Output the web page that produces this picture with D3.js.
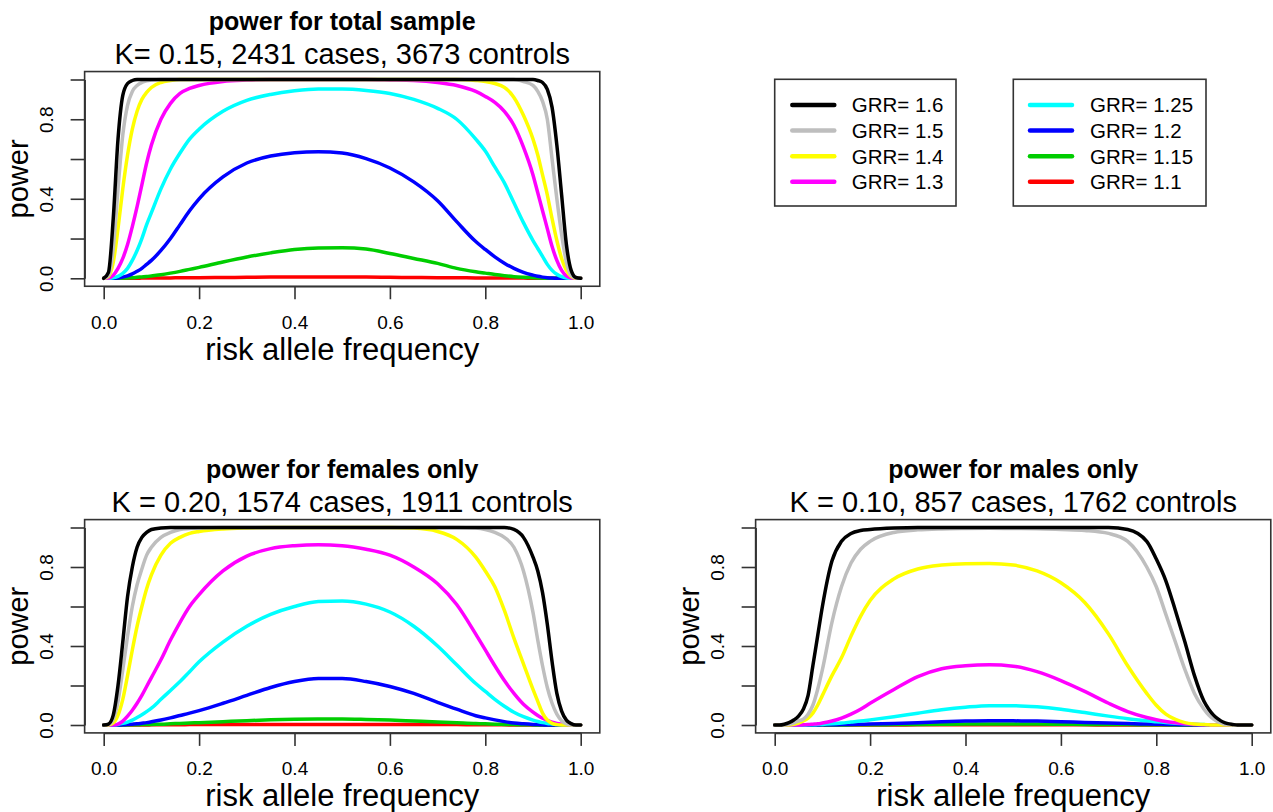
<!DOCTYPE html>
<html>
<head>
<meta charset="utf-8">
<script src="https://cdn.jsdelivr.net/npm/d3@7"></script>
<style>
  body { margin: 0; background: #fff; }
  svg text { font-family: "Liberation Sans", Arial, sans-serif; fill: #000; }
</style>
</head>
<body>
<div id="chart"></div>
<script>
// risk allele frequency grid the curves were read at
var freq = [0, .01, .02, .03, .04, .05, .06, .07, .08, .09, .1,
  .12, .14, .16, .18, .2,
  .25, .3, .35, .4, .45, .5, .55, .6, .65, .7,
  .74, .78, .8, .82, .84, .86, .88, .9,
  .91, .92, .93, .94, .95, .96, .97, .98, .99, 1];

var grr = ["1.6", "1.5", "1.4", "1.3", "1.25", "1.2", "1.15", "1.1"];
var colors = ["#000000", "#bebebe", "#ffff00", "#ff00ff", "#00ffff", "#0000ff", "#00cd00", "#ff0000"];
var yTicks = [0, 0.2, 0.4, 0.6, 0.8, 1];
var yLabelled = [0, 0.4, 0.8];
var xTicks = [0, 0.2, 0.4, 0.6, 0.8, 1];

// power, one row per GRR (same order as grr)
var totalPower = [
  [0,.03,.3,.7,.92,.98,.995,1,1,1,1, 1,1,1,1,1, 1,1,1,1,1,1,1,1,1,1, 1,1,1,1,1,1,1,1, .995,.985,.95,.86,.67,.42,.17,.04,.004,0],
  [0,.015,.15,.45,.72,.87,.94,.97,.985,.993,.997, 1,1,1,1,1, 1,1,1,1,1,1,1,1,1,1, 1,1,1,1,1,1,.99,.97, .94,.89,.8,.6,.4,.22,.08,.015,.002,0],
  [0,.01,.08,.25,.45,.62,.75,.84,.9,.935,.96, .985,.995,1,1,1, 1,1,1,1,1,1,1,1,1,1, 1,.995,.99,.98,.96,.91,.82,.7, .62,.52,.42,.3,.19,.1,.04,.01,0,0],
  [0,.002,.015,.05,.1,.17,.26,.36,.47,.58,.67, .8,.88,.93,.955,.97, .99,.997,1,1,1,1,1,.998,.995,.985, .97,.94,.915,.885,.84,.77,.66,.52, .43,.34,.25,.16,.09,.04,.012,.002,0,0],
  [0,0,.003,.01,.025,.05,.09,.14,.2,.27,.33, .45,.55,.63,.7,.75, .84,.895,.925,.943,.952,.952,.945,.93,.9,.855, .8,.7,.64,.56,.48,.38,.28,.19, .15,.11,.07,.04,.02,.008,.002,0,0,0],
  [0,0,0,.002,.006,.012,.022,.035,.05,.07,.09, .14,.2,.27,.34,.4, .51,.58,.615,.632,.637,.63,.602,.555,.485,.39, .285,.185,.145,.108,.076,.05,.03,.016, .01,.006,.003,.001,0,0,0,0,0,0],
  [0,0,0,0,.001,.002,.003,.005,.007,.009,.012, .018,.026,.035,.045,.055, .082,.107,.128,.145,.153,.154,.147,.125,.1,.075, .05,.033,.026,.019,.013,.008,.005,.003, .002,.001,0,0,0,0,0,0,0,0],
  [0,0,0,0,0,0,0,0,.001,.001,.001, .002,.002,.003,.003,.003, .004,.005,.006,.006,.006,.006,.006,.005,.004,.003, .003,.002,.002,.001,.001,.001,.001,0, 0,0,0,0,0,0,0,0,0,0]
];

var femalePower = [
  [0,.005,.05,.2,.42,.65,.8,.9,.95,.975,.99, .998,1,1,1,1, 1,1,1,1,1,1,1,1,1,1, 1,1,1,1,1,.99,.95,.85, .78,.67,.51,.32,.16,.07,.025,.007,0,0],
  [0,.002,.03,.12,.28,.45,.6,.71,.79,.86,.9, .95,.975,.99,.995,.998, 1,1,1,1,1,1,1,1,1,1, 1,.997,.99,.975,.95,.9,.78,.57, .43,.3,.19,.11,.055,.022,.006,0,0,0],
  [0,0,.01,.05,.13,.25,.38,.5,.6,.69,.76, .86,.92,.95,.97,.98, .993,.998,1,1,1,1,1,1,.997,.98, .94,.85,.78,.7,.58,.44,.31,.18, .12,.06,.025,.008,.002,0,0,0,0,0],
  [0,0,0,.005,.02,.045,.075,.11,.15,.195,.24, .33,.43,.52,.6,.66, .78,.855,.893,.908,.913,.908,.89,.86,.8,.715, .61,.46,.38,.3,.225,.16,.105,.065, .048,.034,.023,.014,.008,.004,.001,0,0,0],
  [0,0,.001,.003,.008,.015,.025,.038,.052,.068,.085, .13,.175,.22,.27,.32, .42,.5,.56,.6,.625,.628,.612,.572,.5,.4, .305,.21,.17,.13,.095,.065,.042,.025, .018,.012,.008,.005,.002,.001,0,0,0,0],
  [0,0,0,0,.001,.002,.004,.006,.009,.012,.016, .025,.036,.048,.06,.073, .11,.15,.19,.22,.235,.235,.22,.195,.16,.115, .08,.047,.036,.026,.017,.01,.006,.003, .002,.001,0,0,0,0,0,0,0,0],
  [0,0,0,0,0,.001,.001,.001,.002,.002,.003, .004,.006,.008,.01,.012, .017,.022,.026,.029,.03,.03,.028,.025,.02,.015, .011,.007,.006,.004,.003,.002,.001,.001, 0,0,0,0,0,0,0,0,0,0],
  [0,0,0,0,0,0,0,0,0,0,.001, .001,.001,.001,.002,.002, .002,.003,.003,.003,.003,.003,.003,.003,.002,.002, .002,.001,.001,.001,.001,0,0,0, 0,0,0,0,0,0,0,0,0,0]
];

var malePower = [
  [0,0,.004,.012,.025,.045,.08,.15,.3,.45,.6, .83,.93,.97,.985,.99, .997,1,1,1,1,1,1,1,1,1, .99,.93,.84,.73,.58,.42,.25,.12, .08,.05,.03,.015,.007,.003,0,0,0,0],
  [0,0,0,.003,.01,.02,.03,.055,.1,.18,.28, .52,.7,.82,.89,.93, .975,.988,.993,.995,.996,.995,.994,.99,.985,.97, .93,.8,.7,.56,.42,.28,.16,.08, .05,.03,.015,.006,.002,0,0,0,0,0],
  [0,0,0,0,.003,.01,.02,.035,.06,.1,.15, .25,.34,.45,.55,.63, .74,.79,.81,.817,.818,.81,.78,.72,.62,.46, .3,.16,.1,.055,.028,.012,.005,.002, .001,0,0,0,0,0,0,0,0,0],
  [0,0,0,0,0,0,.001,.002,.004,.006,.01, .02,.035,.055,.08,.11, .18,.245,.285,.3,.305,.298,.27,.225,.17,.11, .068,.038,.027,.018,.011,.006,.003,.001, .001,0,0,0,0,0,0,0,0,0],
  [0,0,0,0,0,0,0,.001,.001,.002,.003, .006,.01,.015,.02,.026, .042,.06,.077,.09,.098,.098,.092,.08,.063,.045, .032,.021,.017,.013,.009,.006,.004,.002, .001,.001,0,0,0,0,0,0,0,0],
  [0,0,0,0,0,0,0,0,0,0,.001, .001,.002,.003,.004,.005, .008,.012,.016,.02,.022,.021,.02,.017,.013,.01, .007,.005,.004,.003,.002,.001,.001,0, 0,0,0,0,0,0,0,0,0,0],
  [0,0,0,0,0,0,0,0,0,0,0, 0,0,.001,.001,.001, .002,.003,.004,.005,.005,.005,.005,.004,.003,.002, .002,.001,.001,.001,0,0,0,0, 0,0,0,0,0,0,0,0,0,0],
  [0,0,0,0,0,0,0,0,0,0,0, 0,0,0,0,0, 0,.001,.001,.001,.001,.001,.001,.001,.001,0, 0,0,0,0,0,0,0,0, 0,0,0,0,0,0,0,0,0,0]
];

var width = 1273, height = 812;

var svg = d3.select("#chart").append("svg")
    .attr("width", width)
    .attr("height", height);

var panels = [
  {power: totalPower, title: "power for total sample", sub: "K= 0.15, 2431 cases, 3673 controls",
   x0: 103.7, x1: 580.7, y0: 278.3, y1: 79.5},
  {power: femalePower, title: "power for females only", sub: "K = 0.20, 1574 cases, 1911 controls",
   x0: 103.7, x1: 580.7, y0: 725, y1: 527.5},
  {power: malePower, title: "power for males only", sub: "K = 0.10, 857 cases, 1762 controls",
   x0: 774.7, x1: 1251.7, y0: 725, y1: 527.5}
];

panels.forEach(function(p) {
  var x = d3.scaleLinear().domain([0, 1]).range([p.x0, p.x1]);
  var y = d3.scaleLinear().domain([0, 1]).range([p.y0, p.y1]);
  var left = x(-0.04), right = x(1.04), top = y(1.04), bottom = y(-0.04);
  var g = svg.append("g");

  var line = d3.line()
      .x(function(d, i) { return x(freq[i]); })
      .y(function(d) { return y(d); })
      .curve(d3.curveMonotoneX);

  // R drew GRR 1.1 first and 1.6 last
  d3.range(grr.length - 1, -1, -1).forEach(function(k) {
    g.append("path")
      .attr("d", line(p.power[k]))
      .attr("fill", "none")
      .attr("stroke", colors[k])
      .attr("stroke-width", 3.5)
      .attr("stroke-linecap", "round")
      .attr("stroke-linejoin", "round");
  });

  g.append("rect")
    .attr("x", left).attr("y", top)
    .attr("width", right - left).attr("height", bottom - top)
    .attr("fill", "none").attr("stroke", "#333").attr("stroke-width", 1.6);

  var xAxis = g.append("g")
    .attr("transform", "translate(0," + bottom + ")")
    .call(d3.axisBottom(x).tickValues(xTicks).tickSize(13).tickSizeOuter(0)
      .tickFormat(d3.format(".1f")));
  xAxis.select(".domain").attr("stroke", "#333").attr("stroke-width", 1.6);
  xAxis.selectAll(".tick line").attr("stroke", "#333").attr("stroke-width", 1.6);
  xAxis.selectAll(".tick text")
    .attr("y", 42.5).attr("dy", null)
    .style("font-size", "19px")
    .style("font-family", "'Liberation Sans', Arial, sans-serif");

  var yAxis = g.append("g")
    .attr("transform", "translate(" + left + ",0)")
    .call(d3.axisLeft(y).tickValues(yTicks).tickSize(14).tickSizeOuter(0)
      .tickFormat(function(d) { return yLabelled.indexOf(d) >= 0 ? d3.format(".1f")(d) : ""; }));
  yAxis.select(".domain").attr("stroke", "#333").attr("stroke-width", 1.6);
  yAxis.selectAll(".tick line").attr("stroke", "#333").attr("stroke-width", 1.6);
  yAxis.selectAll(".tick text")
    .attr("x", 0).attr("dy", null)
    .attr("text-anchor", "middle")
    .attr("transform", "translate(" + (-(left - p.x0 + 50.4)) + ",0) rotate(-90)")
    .style("font-size", "19px")
    .style("font-family", "'Liberation Sans', Arial, sans-serif");

  var cx = (left + right) / 2;
  g.append("text")
    .attr("x", cx).attr("y", top - 42)
    .attr("text-anchor", "middle")
    .style("font-size", "25px").style("font-weight", "bold")
    .text(p.title);
  g.append("text")
    .attr("x", cx).attr("y", top - 7.5)
    .attr("text-anchor", "middle")
    .style("font-size", "29px")
    .text(p.sub);

  g.append("text")
    .attr("x", cx).attr("y", bottom + 73.5)
    .attr("text-anchor", "middle")
    .style("font-size", "31px")
    .text("risk allele frequency");

  g.append("text")
    .attr("transform", "translate(" + (left - 57) + "," + ((top + bottom) / 2) + ") rotate(-90)")
    .attr("text-anchor", "middle")
    .style("font-size", "29px")
    .text("power");
});

// legend, two boxes of four entries
var legendBoxes = [
  {x: 774.7, lineX: 792.3, textX: 851.7, items: [0, 1, 2, 3]},
  {x: 1013.3, lineX: 1030, textX: 1090, items: [4, 5, 6, 7]}
];
var legendW = [181.3, 192.7];

legendBoxes.forEach(function(b, bi) {
  var lg = svg.append("g");
  lg.append("rect")
    .attr("x", b.x).attr("y", 79.3)
    .attr("width", legendW[bi]).attr("height", 126.7)
    .attr("fill", "#fff").attr("stroke", "#333").attr("stroke-width", 1.6);
  b.items.forEach(function(k, i) {
    var yy = 105 + i * 25.6;
    lg.append("line")
      .attr("x1", b.lineX).attr("x2", b.lineX + 42)
      .attr("y1", yy).attr("y2", yy)
      .attr("stroke", colors[k]).attr("stroke-width", 4.5)
      .attr("stroke-linecap", "round");
    lg.append("text")
      .attr("x", b.textX).attr("y", yy)
      .attr("dy", "0.36em")
      .style("font-size", "20.5px")
      .text("GRR= " + grr[k]);
  });
});
</script>
</body>
</html>
